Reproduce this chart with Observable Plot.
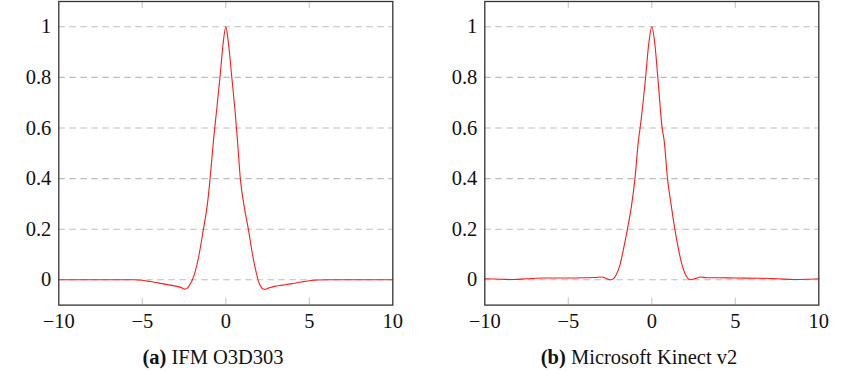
<!DOCTYPE html>
<html>
<head>
<meta charset="utf-8">
<script src="https://cdn.jsdelivr.net/npm/d3@7"></script>
<script src="https://cdn.jsdelivr.net/npm/@observablehq/plot@0.6"></script>
<style>
  html, body { margin: 0; padding: 0; background: #fff; }
  #wrap { position: relative; width: 852px; height: 371px; overflow: hidden; }
  .panel { position: absolute; top: 0; width: 426px; height: 371px; }
  .panel svg { position: absolute; left: 0; top: 0; }
  .cap { position: absolute; left: 0; width: 426px; top: 346.8px; text-align: center;
         font-family: "Liberation Serif", serif; font-size: 20.5px; line-height: 1; color: #111; white-space: nowrap; }
  .cap b { font-weight: bold; }
</style>
</head>
<body>
<div id="wrap">
  <div class="panel" id="pa" style="left:0"></div>
  <div class="panel" id="pb" style="left:426px"></div>
</div>
<script>
// Panel (a): IFM O3D303
const xa = [-10, -8, -6, -5.5, -5, -4.5, -4, -3.5, -3, -2.7, -2.45, -2.3, -2.15, -2.0, -1.8, -1.6, -1.34, -1.1, -0.94, -0.74, -0.55, -0.35, -0.15, 0, 0.15, 0.36, 0.55, 0.7, 0.87, 1.1, 1.35, 1.6, 1.8, 1.95, 2.1, 2.3, 2.55, 2.9, 3.4, 3.9, 4.5, 5, 5.5, 6.2, 8, 10];
const ya = [0, 0, 0, 0, -0.002, -0.007, -0.013, -0.019, -0.025, -0.03, -0.037, -0.033, -0.018, 0.0, 0.04, 0.1, 0.2, 0.3, 0.4, 0.55, 0.67, 0.8, 0.94, 1.0, 0.94, 0.8, 0.67, 0.55, 0.4, 0.29, 0.2, 0.1, 0.035, -0.005, -0.027, -0.038, -0.033, -0.026, -0.021, -0.016, -0.009, -0.004, -0.001, 0, 0, 0];

// Panel (b): Microsoft Kinect v2
const xb = [-10, -9, -8.5, -7.5, -6.5, -5, -4, -3.4, -3.0, -2.75, -2.47, -2.3, -2.13, -1.9, -1.7, -1.46, -1.2, -1.01, -0.8, -0.7, -0.4, -0.17, 0, 0.17, 0.36, 0.62, 0.74, 0.94, 1.15, 1.38, 1.6, 1.85, 2.02, 2.32, 2.6, 2.92, 3.3, 4, 5, 6.5, 7.5, 8.5, 9.3, 10];
const yb = [0.004, 0.002, 0.001, 0.004, 0.007, 0.007, 0.008, 0.009, 0.011, 0.006, 0.0, 0.004, 0.02, 0.06, 0.12, 0.2, 0.3, 0.4, 0.55, 0.6, 0.78, 0.94, 1.0, 0.94, 0.8, 0.6, 0.55, 0.4, 0.3, 0.2, 0.12, 0.05, 0.02, 0.0, 0.005, 0.011, 0.008, 0.008, 0.007, 0.006, 0.004, 0.001, 0.002, 0.004];

const xTicks = [-10, -5, 0, 5, 10];
const xInnerTicks = [-5, 0, 5];
const yTicks = [0, 0.2, 0.4, 0.6, 0.8, 1];

const captions = [
  {label: "(a)", text: "IFM O3D303"},
  {label: "(b)", text: "Microsoft Kinect v2"}
];

const serif = "Liberation Serif";

function panel(xs, ys, cap, el) {
  const data = xs.map((x, i) => ({x, y: ys[i]}));
  const W = 426, H = 335, mt = 1, mb = 30.4;
  const frameH = H - mt - mb;
  const chart = Plot.plot({
    width: W,
    height: H,
    marginLeft: 58.3,
    marginRight: 33.7,
    marginTop: mt,
    marginBottom: mb,
    style: {fontFamily: serif, fontSize: "20px", color: "#111", background: "transparent", overflow: "visible"},
    x: {domain: [-10, 10]},
    y: {domain: [-0.1, 1.1]},
    marks: [
      Plot.ruleY(yTicks, {stroke: "#bdbdbd", strokeWidth: 1.1, strokeDasharray: "6.5,4.5"}),
      Plot.ruleX(xInnerTicks, {stroke: "#c8c8c8", strokeWidth: 1.1, insetBottom: frameH - 7}),
      Plot.ruleX(xInnerTicks, {stroke: "#c8c8c8", strokeWidth: 1.1, insetTop: frameH - 7}),
      Plot.line(data, {x: "x", y: "y", stroke: "#ff1a1a", strokeWidth: 1.1, curve: "monotone-x"}),
      Plot.frame({stroke: "#333", strokeWidth: 1.3}),
      Plot.axisX(xTicks, {anchor: "bottom", tickSize: 0, tickPadding: 8.5, fontSize: 20.5, fontFamily: serif, label: null, tickFormat: d3.format("d")}),
      Plot.axisY(yTicks, {anchor: "left", tickSize: 0, tickPadding: 7.5, fontSize: 20.5, fontFamily: serif, label: null, tickFormat: d => String(d)})
    ]
  });
  el.appendChild(chart);
  const c = document.createElement("div");
  c.className = "cap";
  const b = document.createElement("b");
  b.textContent = cap.label;
  c.appendChild(b);
  c.appendChild(document.createTextNode(" " + cap.text));
  el.appendChild(c);
}

panel(xa, ya, captions[0], document.getElementById("pa"));
panel(xb, yb, captions[1], document.getElementById("pb"));
</script>
</body>
</html>
